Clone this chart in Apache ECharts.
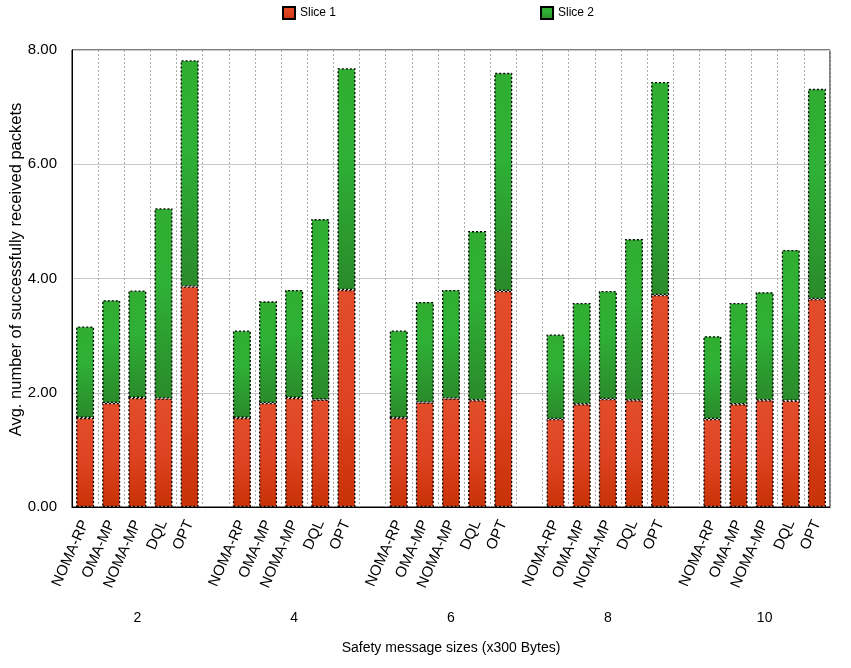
<!DOCTYPE html>
<html><head><meta charset="utf-8">
<script src="https://cdn.jsdelivr.net/npm/echarts@6/dist/echarts.min.js"></script>
<style>html,body{margin:0;padding:0;background:#fff}#c{width:851px;height:668px}</style>
</head><body><div id="c"></div>
<script>
const groups = ['2','4','6','8','10'];
const methods = ['NOMA-RP','OMA-MP','NOMA-MP','DQL','OPT'];
const slice1Size2  = [1.56,1.82,1.91,1.90,3.86];
const slice1Size4  = [1.56,1.82,1.91,1.88,3.80];
const slice1Size6  = [1.56,1.83,1.90,1.87,3.78];
const slice1Size8  = [1.54,1.80,1.89,1.87,3.71];
const slice1Size10 = [1.54,1.80,1.87,1.86,3.64];
const slice2Size2  = [1.60,1.80,1.88,3.33,3.96];
const slice2Size4  = [1.53,1.78,1.89,3.16,3.88];
const slice2Size6  = [1.53,1.76,1.90,2.96,3.82];
const slice2Size8  = [1.48,1.77,1.89,2.82,3.73];
const slice2Size10 = [1.45,1.77,1.89,2.64,3.68];
const yTicks = [0,2,4,6,8];

const slice1 = [slice1Size2,slice1Size4,slice1Size6,slice1Size8,slice1Size10];
const slice2 = [slice2Size2,slice2Size4,slice2Size6,slice2Size8,slice2Size10];

const keys = [], s1 = [], s2 = [];
groups.forEach((g, gi) => {
  methods.forEach((m, mi) => { keys.push(g + '|' + m); s1.push(slice1[gi][mi]); s2.push(slice2[gi][mi]); });
  if (gi < groups.length - 1) { keys.push(g + '|'); s1.push(null); s2.push(null); }
});

const FONT = 'Liberation Sans, Arial, Helvetica, sans-serif';
const dots = [2, 2];
const redFill = {type:'linear',x:0,y:0,x2:0,y2:1,colorStops:[{offset:0,color:'#e34d2a'},{offset:0.5,color:'#de4422'},{offset:1,color:'#c83206'}]};
const greenFill = {type:'linear',x:0,y:0,x2:0,y2:1,colorStops:[{offset:0,color:'#31ae31'},{offset:0.4,color:'#2fb036'},{offset:1,color:'#2a8a2a'}]};

const chart = echarts.init(document.getElementById('c'), null, {renderer:'canvas'});
chart.setOption({
  animation: false,
  backgroundColor: '#fff',
  textStyle: {fontFamily: FONT, color: '#000'},
  legend: {
    top: 1, left: 277, itemWidth: 12, itemHeight: 12, itemGap: 204,
    icon: 'rect',
    textStyle: {fontSize: 12, color: '#000', fontFamily: FONT},
    data: ['Slice 1', 'Slice 2']
  },
  grid: {left: 72, right: 21, top: 50, bottom: 161, containLabel: false, outerBoundsMode: 'none',
         show: true, borderColor: '#000', borderWidth: 1, backgroundColor: 'transparent'},
  xAxis: [{
    type: 'category', data: keys, boundaryGap: true,
    axisLine: {show: true, lineStyle: {color: '#000', width: 1}},
    axisTick: {show: false},
    axisLabel: {interval: 0, rotate: 66, fontSize: 15, color: '#000', margin: 14, fontFamily: FONT,
                formatter: v => v.split('|')[1] || ''},
    splitLine: {show: true, interval: 0, lineStyle: {color: '#aaaaaa', type: dots, width: 1}},
    name: 'Safety message sizes (x300 Bytes)', nameLocation: 'middle', nameGap: 134,
    nameMoveOverlap: false,
    nameTextStyle: {fontSize: 14, color: '#000', fontFamily: FONT}
  }, {
    type: 'category', data: keys, position: 'bottom', offset: 96, boundaryGap: true,
    axisLine: {show: false}, axisTick: {show: false}, splitLine: {show: false},
    axisLabel: {interval: 0, fontSize: 14, color: '#000', margin: 8, fontFamily: FONT,
                formatter: (v, i) => (i % 6 === 2 ? v.split('|')[0] : '')}
  }],
  yAxis: {
    type: 'value', min: yTicks[0], max: yTicks[yTicks.length - 1], interval: 2,
    axisLine: {show: true, lineStyle: {color: '#000', width: 1}},
    axisTick: {show: false},
    axisLabel: {fontSize: 15, color: '#000', margin: 15, fontFamily: FONT, formatter: v => v.toFixed(2)},
    splitLine: {show: true, lineStyle: {color: '#c8c8c8', width: 1}},
    name: 'Avg. number of successfully received packets', nameLocation: 'middle', nameGap: 47,
    nameMoveOverlap: false,
    nameTextStyle: {fontSize: 16.5, color: '#000', fontFamily: FONT, padding: [0, 0, 0, 18]}
  },
  series: [{
    name: 'Slice 1', type: 'bar', stack: 'total', data: s1, barWidth: 18, xAxisIndex: 0,
    itemStyle: {color: redFill, borderColor: '#000', borderWidth: 1.3, borderType: dots}
  }, {
    name: 'Slice 2', type: 'bar', stack: 'total', data: s2, barWidth: 18, xAxisIndex: 0,
    itemStyle: {color: greenFill, borderColor: '#000', borderWidth: 1.3, borderType: dots}
  }]
});
</script></body></html>
